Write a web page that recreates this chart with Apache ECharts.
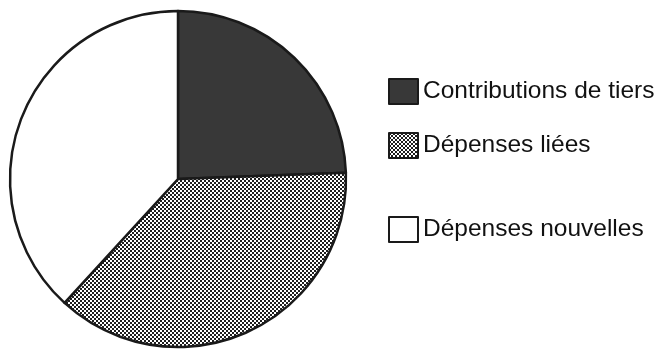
<!DOCTYPE html>
<html>
<head>
<meta charset="utf-8">
<style>
  html, body { margin: 0; padding: 0; background: #fff; }
  #chart { width: 667px; height: 350px; }
</style>
<script src="https://cdn.jsdelivr.net/npm/echarts@6/dist/echarts.min.js"></script>
</head>
<body>
<div id="chart"></div>
<script>
// Shares of the budget (percent)
const categories = ['Contributions de tiers', 'Dépenses liées', 'Dépenses nouvelles'];
const shares = [24.4, 37.4, 38.2];

// Fine checker screen used for the "Dépenses liées" slice
function checkerTile() {
  const c = document.createElement('canvas');
  c.width = 4; c.height = 4;
  const g = c.getContext('2d');
  g.fillStyle = '#ffffff';
  g.fillRect(0, 0, 4, 4);
  g.fillStyle = '#1e1e1e';
  g.fillRect(0, 0, 2, 2);
  g.fillRect(2, 2, 2, 2);
  return c;
}

const fills = [
  '#383838',
  { image: checkerTile(), repeat: 'repeat' },
  '#ffffff'
];

const chart = echarts.init(document.getElementById('chart'), null, { renderer: 'canvas' });

const legendBase = {
  orient: 'vertical',
  left: 388,
  padding: 0,
  icon: 'rect',
  itemWidth: 29,
  itemHeight: 25,
  itemGap: 0,
  selectedMode: false,
  textStyle: { fontFamily: 'Liberation Sans, Arial, sans-serif', fontSize: 24.5, color: '#111' }
};

chart.setOption({
  animation: false,
  legend: [
    Object.assign({}, legendBase, { top: 78, data: [categories[0]] }),
    Object.assign({}, legendBase, { top: 132, data: [categories[1]] }),
    Object.assign({}, legendBase, { top: 216, data: [categories[2]] })
  ],
  series: [{
    type: 'pie',
    center: [178, 179],
    radius: 168,
    startAngle: 90,
    clockwise: true,
    label: { show: false },
    labelLine: { show: false },
    emphasis: { disabled: true },
    itemStyle: { borderColor: '#1a1a1a', borderWidth: 2.5 },
    data: categories.map((name, i) => ({
      name: name,
      value: shares[i],
      itemStyle: { color: fills[i] }
    }))
  }]
});
</script>
</body>
</html>
